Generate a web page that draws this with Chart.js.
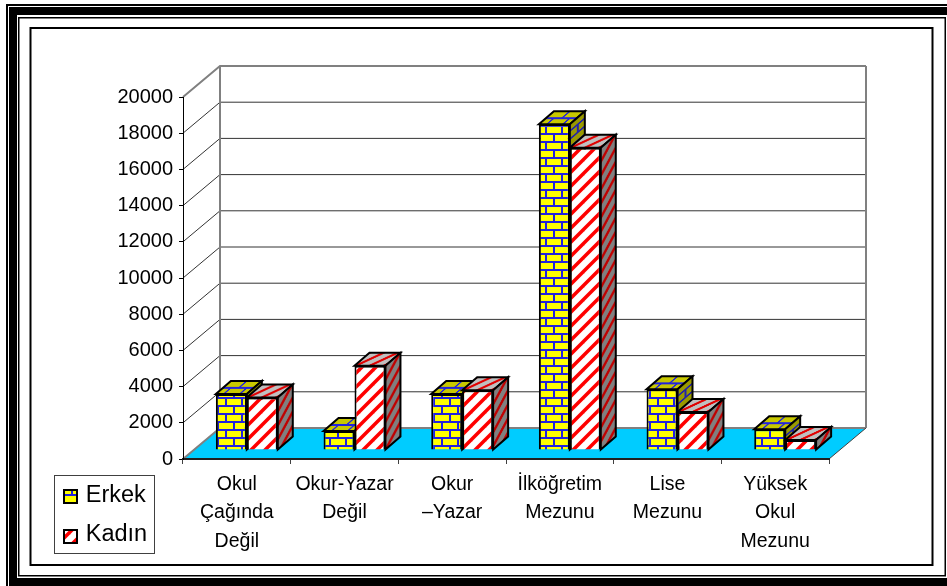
<!DOCTYPE html>
<html>
<head>
<meta charset="utf-8">
<title>Chart</title>
<script src="https://cdn.jsdelivr.net/npm/chart.js@4/dist/chart.umd.min.js"></script>
<style>
  html, body { margin: 0; padding: 0; background: #fff; overflow: hidden; }
  canvas { display: block; }
</style>
</head>
<body>
<canvas id="myChart" width="947" height="586"></canvas>
<script>
// Data
const categories = [
    ['Okul', 'Çağında', 'Değil'],
    ['Okur-Yazar', 'Değil'],
    ['Okur', '–Yazar'],
    ['İlköğretim', 'Mezunu'],
    ['Lise', 'Mezunu'],
    ['Yüksek', 'Okul', 'Mezunu']
];
const erkek = [3100, 1050, 3100, 18000, 3350, 1150];
const kadin = [2900, 4650, 3300, 16700, 2100, 550];
const yMax = 20000;
const yStep = 2000;

// Depth of the fake 3d room and of the bars, in pixels
const roomDx = 37, roomDy = 31;
const barDx = 15, barDy = 13;
const shiftX = 10, shiftY = 9;

function brickPattern(face, mortar) {
    const c = document.createElement('canvas');
    c.width = 16; c.height = 16;
    const g = c.getContext('2d');
    g.fillStyle = mortar;
    g.fillRect(0, 0, 16, 16);
    g.fillStyle = face;
    g.fillRect(1, 0, 14, 6);
    g.fillRect(0, 8, 7, 6);
    g.fillRect(9, 8, 7, 6);
    return g.createPattern(c, 'repeat');
}

function stripePattern(face, stripe) {
    const c = document.createElement('canvas');
    c.width = 14; c.height = 14;
    const g = c.getContext('2d');
    g.fillStyle = face;
    g.fillRect(0, 0, 14, 14);
    g.strokeStyle = stripe;
    g.lineWidth = 3.5;
    [-14, 0, 14].forEach((o) => {
        g.beginPath();
        g.moveTo(o - 2, 16);
        g.lineTo(o + 16, -2);
        g.stroke();
    });
    return g.createPattern(c, 'repeat');
}

const brick = {
    front: brickPattern('#ffff00', '#2222dd'),
    top: brickPattern('#c8c800', '#2222dd'),
    side: brickPattern('#999900', '#2222aa')
};
const stripe = {
    front: stripePattern('#ffffff', '#ff0000'),
    top: stripePattern('#c0c0c0', '#e00000'),
    side: stripePattern('#808080', '#c00000')
};

function drawFrame(ctx) {
    ctx.fillStyle = '#000';
    // outer lines
    ctx.fillRect(6, 4, 941, 2);
    ctx.fillRect(6, 4, 2, 582);
    ctx.fillRect(9, 7, 938, 8);
    ctx.fillRect(9, 7, 8, 579);
    ctx.fillRect(9, 578, 938, 8);
    // thin line
    ctx.fillRect(18, 17, 928, 1.5);
    ctx.fillRect(18, 17, 1.5, 559);
    ctx.fillRect(18, 575, 928, 1.5);
    ctx.fillRect(944.5, 17, 1.5, 559);
    // inner box
    ctx.strokeStyle = '#000';
    ctx.lineWidth = 2;
    ctx.strokeRect(30.5, 28, 902, 537);
    ctx.fillStyle = '#808080';
    ctx.fillRect(933, 29, 1, 536);
}

function drawRoom(chart) {
    const ctx = chart.ctx;
    const y = chart.scales.y, x = chart.scales.x;
    const left = x.left, right = x.right, base = y.getPixelForValue(0);

    // floor
    ctx.fillStyle = '#00ccff';
    ctx.beginPath();
    ctx.moveTo(left, base);
    ctx.lineTo(right, base);
    ctx.lineTo(right + roomDx, base - roomDy);
    ctx.lineTo(left + roomDx, base - roomDy);
    ctx.closePath();
    ctx.fill();

    // grid on the side and back wall
    y.ticks.forEach((t) => {
        const py = y.getPixelForValue(t.value);
        const edge = t.value === 0 || t.value === yMax;
        ctx.strokeStyle = edge ? '#808080' : '#333';
        ctx.lineWidth = edge ? 2 : 1;
        ctx.beginPath();
        ctx.moveTo(left, py);
        ctx.lineTo(left + roomDx, py - roomDy);
        ctx.lineTo(right + roomDx, py - roomDy);
        ctx.stroke();
    });

    // wall edges
    const top = y.getPixelForValue(yMax);
    ctx.strokeStyle = '#808080';
    ctx.lineWidth = 2;
    ctx.beginPath();
    ctx.moveTo(left + roomDx, top - roomDy);
    ctx.lineTo(left + roomDx, base - roomDy);
    ctx.moveTo(right + roomDx, top - roomDy);
    ctx.lineTo(right + roomDx, base - roomDy);
    ctx.stroke();

    // front edge of the floor over the right side
    ctx.strokeStyle = '#404040';
    ctx.lineWidth = 1;
    ctx.beginPath();
    ctx.moveTo(right, base);
    ctx.lineTo(right + roomDx, base - roomDy);
    ctx.stroke();
}

// parallelogram filled through a sheared transform, so the pattern follows the face
function shearedFace(ctx, x, y, w, h, skewX, skewY, fill) {
    ctx.save();
    ctx.transform(1, skewY, skewX, 1, x, y);
    ctx.fillStyle = fill;
    ctx.beginPath();
    ctx.rect(0, 0, w, h);
    ctx.fill();
    ctx.restore();
    ctx.beginPath();
    ctx.moveTo(x, y);
    ctx.lineTo(x + w, y + skewY * w);
    ctx.lineTo(x + w + skewX * h, y + skewY * w + h);
    ctx.lineTo(x + skewX * h, y + h);
    ctx.closePath();
    ctx.strokeStyle = '#000';
    ctx.lineWidth = 2;
    ctx.lineJoin = 'miter';
    ctx.stroke();
}

function drawBarFaces(chart, index, faces) {
    const ctx = chart.ctx;
    chart.getDatasetMeta(index).data.forEach((bar) => {
        const l = bar.x - bar.width / 2;
        const r = bar.x + bar.width / 2;
        const h = bar.base - bar.y;
        // top
        shearedFace(ctx, l + barDx, bar.y - barDy, bar.width, barDy, -barDx / barDy, 0, faces.top);
        // side
        shearedFace(ctx, r, bar.y, barDx, h, 0, -barDy / barDx, faces.side);
    });
}

function drawSwatch(ctx, y, fill) {
    ctx.fillStyle = fill;
    ctx.fillRect(63, y, 15, 15);
    ctx.strokeStyle = '#000';
    ctx.lineWidth = 2;
    ctx.strokeRect(64, y + 1, 13, 13);
}

const box3d = {
    id: 'box3d',
    beforeDraw(chart) {
        drawFrame(chart.ctx);
        drawRoom(chart);
    },
    beforeDatasetsDraw(chart) {
        chart.ctx.save();
        chart.ctx.translate(shiftX, -shiftY);
        drawBarFaces(chart, 0, brick);
        drawBarFaces(chart, 1, stripe);
    },
    afterDatasetsDraw(chart) {
        chart.ctx.restore();
    },
    afterLayout(chart) {
        // legend sits bottom left under the axis, its bottom kept loose so it stays one column
        const lg = chart.legend;
        lg.left = 48; lg.top = 469; lg.right = 154; lg.bottom = 586;
        lg.width = 106; lg.height = 117;
    },
    afterDraw(chart) {
        const ctx = chart.ctx;
        ctx.strokeStyle = '#404040';
        ctx.lineWidth = 1;
        ctx.strokeRect(54.5, 475.5, 100, 78);
        drawSwatch(ctx, 489, brick.front);
        drawSwatch(ctx, 529, stripe.front);
    }
};

const ctx = document.getElementById('myChart');

new Chart(ctx, {
    type: 'bar',
    data: {
        labels: categories,
        datasets: [
            { label: 'Erkek', data: erkek, backgroundColor: brick.front, borderColor: '#000', borderWidth: 2, clip: false },
            { label: 'Kadın', data: kadin, backgroundColor: stripe.front, borderColor: '#000', borderWidth: 2, clip: false }
        ]
    },
    options: {
        responsive: false,
        animation: false,
        devicePixelRatio: 1,
        layout: { padding: { left: 0, top: 97, right: 118, bottom: 0 } },
        categoryPercentage: 0.575,
        barPercentage: 1,
        font: { family: '"Liberation Sans", Arial, sans-serif' },
        scales: {
            x: {
                afterFit(s) { s.height = 127; },
                grid: { drawOnChartArea: false, offset: true, tickLength: 5, color: '#404040' },
                border: { color: '#202020', width: 2 },
                ticks: {
                    color: '#000',
                    font: { family: '"Liberation Sans", Arial, sans-serif', size: 19.5, lineHeight: 1.47 },
                    padding: 6,
                    autoSkip: false,
                    maxRotation: 0,
                    minRotation: 0
                }
            },
            y: {
                min: 0,
                max: yMax,
                afterFit(s) { s.width = 183; },
                grid: { drawOnChartArea: false, tickLength: 4, color: '#000' },
                border: { color: '#000', width: 1 },
                ticks: {
                    stepSize: yStep,
                    color: '#000',
                    font: { family: '"Liberation Sans", Arial, sans-serif', size: 20 },
                    padding: 6,
                    callback: (v) => String(v)
                }
            }
        },
        plugins: {
            tooltip: { enabled: false },
            legend: {
                position: 'chartArea',
                align: 'start',
                labels: {
                    boxWidth: 11,
                    boxHeight: 15,
                    padding: 15,
                    color: '#000',
                    font: { family: '"Liberation Sans", Arial, sans-serif', size: 23.5 },
                    generateLabels: (chart) => chart.data.datasets.map((d, i) => ({
                        text: d.label,
                        fontColor: '#000',
                        fillStyle: 'rgba(0,0,0,0)',
                        strokeStyle: 'rgba(0,0,0,0)',
                        lineWidth: 0,
                        datasetIndex: i
                    }))
                }
            }
        }
    },
    plugins: [box3d]
});
</script>
</body>
</html>
